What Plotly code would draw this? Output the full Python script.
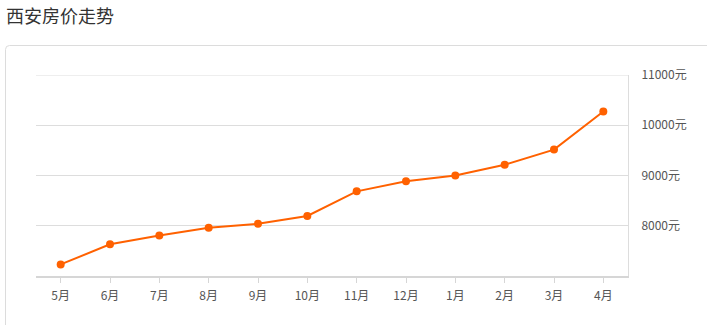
import plotly.graph_objects as go

months = ["5月", "6月", "7月", "8月", "9月", "10月", "11月", "12月", "1月", "2月", "3月", "4月"]
prices = [7230, 7630, 7805, 7960, 8040, 8195, 8685, 8885, 9000, 9215, 9515, 10275]
y_ticks = [8000, 9000, 10000, 11000]
y_tick_labels = ["8000元", "9000元", "10000元", "11000元"]
y_range = [7000, 11000]
title_text = "西安房价走势"

W, H = 707, 325
ML, MR, MT, MB = 36, 79, 75, 49
PW, PH = W - ML - MR, H - MT - MB

def px_x(x):
    return (x - ML) / PW

def px_y(y):
    return (H - MB - y) / PH

FONT = "Noto Sans CJK SC, Microsoft YaHei, sans-serif"

fig = go.Figure()
fig.add_trace(go.Scatter(
    x=months, y=prices, mode="lines+markers",
    line=dict(color="#ff6100", width=2),
    marker=dict(color="#ff6100", size=8),
    hoverinfo="x+y",
))

# card border (rounded top-left corner)
x0, y0, x1, y1 = px_x(5.5), px_y(45.5), px_x(720), px_y(340)
rx = 4 / PW
ry = 4 / PH
card_path = (f"M {x0},{y1} L {x0},{y0 - ry} Q {x0},{y0} {x0 + rx},{y0} "
             f"L {x1},{y0}")
fig.add_shape(type="path", path=card_path, xref="paper", yref="paper",
              line=dict(color="#dcdcdc", width=1), layer="below")
# top gridline at the upper end of the range (plotly skips gridlines at the edge)
fig.add_shape(type="line", xref="paper", yref="y", x0=0, x1=1,
              y0=y_ticks[-1], y1=y_ticks[-1],
              line=dict(color="#dddddd", width=1), layer="below")

fig.update_layout(
    width=W, height=H,
    margin=dict(l=ML, r=MR, t=MT, b=MB),
    paper_bgcolor="white", plot_bgcolor="white",
    showlegend=False,
    font=dict(family=FONT, size=12, color="#555555"),
    title=dict(text=title_text, x=6 / W, xanchor="left", xref="container",
               y=1 - 17 / H, yanchor="middle", yref="container",
               font=dict(family=FONT, size=18, color="#333333")),
)
fig.update_xaxes(
    type="category", range=[-0.5, len(months) - 0.5],
    showgrid=False, showline=True, linecolor="#d6d6d6", linewidth=2,
    ticks="outside", ticklen=5, tickcolor="#d6d6d6", tickwidth=1,
    tickfont=dict(size=12, color="#555555"), ticklabelstandoff=3,
    zeroline=False, fixedrange=True,
)
fig.update_yaxes(
    range=y_range, side="right",
    tickvals=y_ticks, ticktext=y_tick_labels,
    showgrid=True, gridcolor="#dddddd", gridwidth=1,
    showline=True, linecolor="#dddddd", linewidth=1, mirror=False,
    ticks="", ticklabelstandoff=10,
    tickfont=dict(size=12, color="#555555"),
    zeroline=False, fixedrange=True,
)

fig.write_html("out.html")
